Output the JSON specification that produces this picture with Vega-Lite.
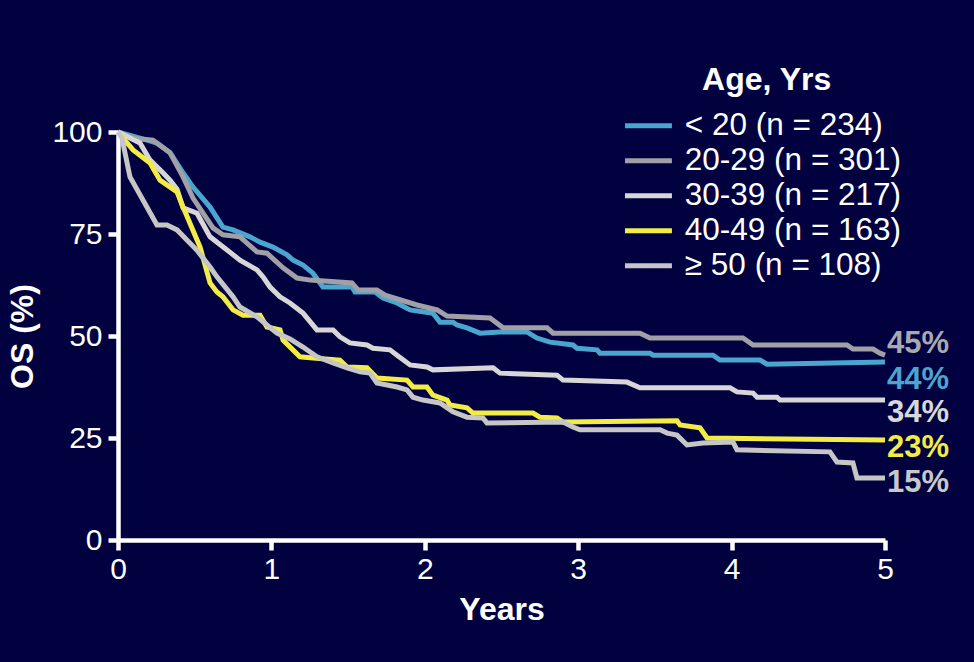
{
  "$schema": "https://vega.github.io/schema/vega-lite/v6.json",
  "autosize": "none",
  "width": 767,
  "height": 408,
  "padding": {"left": 118, "top": 132, "right": 89, "bottom": 122},
  "background": "#010140",
  "config": {
    "view": {"stroke": null},
    "font": "Liberation Sans",
    "axis": {
      "domainColor": "#ffffff", "domainWidth": 4.5, "tickColor": "#ffffff", "tickWidth": 4.5, "tickSize": 10,
      "labelColor": "#ffffff", "labelFont": "Liberation Sans", "labelFontSize": 30, "grid": false,
      "titleColor": "#ffffff", "titleFont": "Liberation Sans", "titleFontSize": 32, "titleFontWeight": "bold"
    },
    "legend": {
      "orient": "none", "legendX": 514.7, "legendY": -67, "padding": 0,
      "titleColor": "#ffffff", "titleFont": "Liberation Sans", "titleFontSize": 32, "titleFontWeight": "bold",
      "titleAnchor": "middle", "titlePadding": 13,
      "labelColor": "#ffffff", "labelFont": "Liberation Sans", "labelFontSize": 31.5, "labelOffset": 20.6, "labelLimit": 0,
      "symbolType": "M-3,0H3", "symbolSize": 245, "symbolStrokeWidth": 5, "rowPadding": 2
    }
  },
  "datasets": {
    "curves": [
      {"g": "< 20 (n = 234)", "t": 0, "s": 100},
      {"g": "< 20 (n = 234)", "t": 0.189, "s": 98},
      {"g": "< 20 (n = 234)", "t": 0.254, "s": 97.3},
      {"g": "< 20 (n = 234)", "t": 0.339, "s": 95},
      {"g": "< 20 (n = 234)", "t": 0.424, "s": 90},
      {"g": "< 20 (n = 234)", "t": 0.489, "s": 86.5},
      {"g": "< 20 (n = 234)", "t": 0.6, "s": 81.6},
      {"g": "< 20 (n = 234)", "t": 0.684, "s": 76.7},
      {"g": "< 20 (n = 234)", "t": 0.75, "s": 76},
      {"g": "< 20 (n = 234)", "t": 0.86, "s": 74.3},
      {"g": "< 20 (n = 234)", "t": 0.926, "s": 73},
      {"g": "< 20 (n = 234)", "t": 1.01, "s": 71.8},
      {"g": "< 20 (n = 234)", "t": 1.102, "s": 69.9},
      {"g": "< 20 (n = 234)", "t": 1.141, "s": 68.6},
      {"g": "< 20 (n = 234)", "t": 1.206, "s": 67.4},
      {"g": "< 20 (n = 234)", "t": 1.271, "s": 65.4},
      {"g": "< 20 (n = 234)", "t": 1.336, "s": 62},
      {"g": "< 20 (n = 234)", "t": 1.525, "s": 62},
      {"g": "< 20 (n = 234)", "t": 1.545, "s": 60.8},
      {"g": "< 20 (n = 234)", "t": 1.675, "s": 60.8},
      {"g": "< 20 (n = 234)", "t": 1.728, "s": 59.3},
      {"g": "< 20 (n = 234)", "t": 1.819, "s": 58.1},
      {"g": "< 20 (n = 234)", "t": 1.904, "s": 56.4},
      {"g": "< 20 (n = 234)", "t": 2.053, "s": 55.6},
      {"g": "< 20 (n = 234)", "t": 2.099, "s": 53.4},
      {"g": "< 20 (n = 234)", "t": 2.184, "s": 53.4},
      {"g": "< 20 (n = 234)", "t": 2.21, "s": 52.7},
      {"g": "< 20 (n = 234)", "t": 2.275, "s": 52},
      {"g": "< 20 (n = 234)", "t": 2.36, "s": 50.7},
      {"g": "< 20 (n = 234)", "t": 2.49, "s": 51},
      {"g": "< 20 (n = 234)", "t": 2.666, "s": 51},
      {"g": "< 20 (n = 234)", "t": 2.731, "s": 49.5},
      {"g": "< 20 (n = 234)", "t": 2.816, "s": 48.5},
      {"g": "< 20 (n = 234)", "t": 2.966, "s": 47.8},
      {"g": "< 20 (n = 234)", "t": 2.992, "s": 47},
      {"g": "< 20 (n = 234)", "t": 3.123, "s": 46.6},
      {"g": "< 20 (n = 234)", "t": 3.142, "s": 45.8},
      {"g": "< 20 (n = 234)", "t": 3.468, "s": 45.8},
      {"g": "< 20 (n = 234)", "t": 3.488, "s": 45.3},
      {"g": "< 20 (n = 234)", "t": 3.879, "s": 45.3},
      {"g": "< 20 (n = 234)", "t": 3.924, "s": 44.1},
      {"g": "< 20 (n = 234)", "t": 4.185, "s": 44.1},
      {"g": "< 20 (n = 234)", "t": 4.231, "s": 43.1},
      {"g": "< 20 (n = 234)", "t": 4.576, "s": 43.3},
      {"g": "< 20 (n = 234)", "t": 5, "s": 43.6},

      {"g": "20-29 (n = 301)", "t": 0, "s": 100},
      {"g": "20-29 (n = 301)", "t": 0.098, "s": 98.5},
      {"g": "20-29 (n = 301)", "t": 0.228, "s": 98},
      {"g": "20-29 (n = 301)", "t": 0.339, "s": 94.9},
      {"g": "20-29 (n = 301)", "t": 0.424, "s": 89},
      {"g": "20-29 (n = 301)", "t": 0.489, "s": 83.8},
      {"g": "20-29 (n = 301)", "t": 0.619, "s": 76.5},
      {"g": "20-29 (n = 301)", "t": 0.684, "s": 74.8},
      {"g": "20-29 (n = 301)", "t": 0.795, "s": 74.3},
      {"g": "20-29 (n = 301)", "t": 0.906, "s": 70.6},
      {"g": "20-29 (n = 301)", "t": 0.971, "s": 70.3},
      {"g": "20-29 (n = 301)", "t": 1.076, "s": 66.7},
      {"g": "20-29 (n = 301)", "t": 1.167, "s": 64.2},
      {"g": "20-29 (n = 301)", "t": 1.252, "s": 63.7},
      {"g": "20-29 (n = 301)", "t": 1.525, "s": 63},
      {"g": "20-29 (n = 301)", "t": 1.565, "s": 61.3},
      {"g": "20-29 (n = 301)", "t": 1.688, "s": 61.3},
      {"g": "20-29 (n = 301)", "t": 1.741, "s": 60},
      {"g": "20-29 (n = 301)", "t": 1.949, "s": 57.6},
      {"g": "20-29 (n = 301)", "t": 2.08, "s": 56.4},
      {"g": "20-29 (n = 301)", "t": 2.145, "s": 54.9},
      {"g": "20-29 (n = 301)", "t": 2.425, "s": 54.4},
      {"g": "20-29 (n = 301)", "t": 2.51, "s": 52},
      {"g": "20-29 (n = 301)", "t": 2.797, "s": 52},
      {"g": "20-29 (n = 301)", "t": 2.836, "s": 50.7},
      {"g": "20-29 (n = 301)", "t": 3.403, "s": 50.7},
      {"g": "20-29 (n = 301)", "t": 3.468, "s": 49.5},
      {"g": "20-29 (n = 301)", "t": 4.074, "s": 49.5},
      {"g": "20-29 (n = 301)", "t": 4.14, "s": 47.8},
      {"g": "20-29 (n = 301)", "t": 4.752, "s": 47.8},
      {"g": "20-29 (n = 301)", "t": 4.791, "s": 46.8},
      {"g": "20-29 (n = 301)", "t": 4.922, "s": 46.8},
      {"g": "20-29 (n = 301)", "t": 4.967, "s": 45.8},
      {"g": "20-29 (n = 301)", "t": 5, "s": 45.3},

      {"g": "30-39 (n = 217)", "t": 0, "s": 100},
      {"g": "30-39 (n = 217)", "t": 0.143, "s": 97.3},
      {"g": "30-39 (n = 217)", "t": 0.209, "s": 93.1},
      {"g": "30-39 (n = 217)", "t": 0.293, "s": 90},
      {"g": "30-39 (n = 217)", "t": 0.339, "s": 88.2},
      {"g": "30-39 (n = 217)", "t": 0.385, "s": 86},
      {"g": "30-39 (n = 217)", "t": 0.424, "s": 81.4},
      {"g": "30-39 (n = 217)", "t": 0.515, "s": 80.1},
      {"g": "30-39 (n = 217)", "t": 0.6, "s": 74.3},
      {"g": "30-39 (n = 217)", "t": 0.711, "s": 71.1},
      {"g": "30-39 (n = 217)", "t": 0.795, "s": 68.6},
      {"g": "30-39 (n = 217)", "t": 0.906, "s": 66.2},
      {"g": "30-39 (n = 217)", "t": 0.945, "s": 64.5},
      {"g": "30-39 (n = 217)", "t": 0.991, "s": 62},
      {"g": "30-39 (n = 217)", "t": 1.056, "s": 59.6},
      {"g": "30-39 (n = 217)", "t": 1.121, "s": 58.1},
      {"g": "30-39 (n = 217)", "t": 1.206, "s": 55.6},
      {"g": "30-39 (n = 217)", "t": 1.297, "s": 51.5},
      {"g": "30-39 (n = 217)", "t": 1.402, "s": 51.5},
      {"g": "30-39 (n = 217)", "t": 1.447, "s": 49.8},
      {"g": "30-39 (n = 217)", "t": 1.512, "s": 48.3},
      {"g": "30-39 (n = 217)", "t": 1.623, "s": 47.8},
      {"g": "30-39 (n = 217)", "t": 1.662, "s": 47},
      {"g": "30-39 (n = 217)", "t": 1.773, "s": 46.6},
      {"g": "30-39 (n = 217)", "t": 1.819, "s": 45.3},
      {"g": "30-39 (n = 217)", "t": 1.904, "s": 42.9},
      {"g": "30-39 (n = 217)", "t": 2.014, "s": 42.4},
      {"g": "30-39 (n = 217)", "t": 2.053, "s": 41.7},
      {"g": "30-39 (n = 217)", "t": 2.445, "s": 42.2},
      {"g": "30-39 (n = 217)", "t": 2.49, "s": 40.9},
      {"g": "30-39 (n = 217)", "t": 2.862, "s": 40.4},
      {"g": "30-39 (n = 217)", "t": 2.901, "s": 39.2},
      {"g": "30-39 (n = 217)", "t": 3.318, "s": 38.7},
      {"g": "30-39 (n = 217)", "t": 3.403, "s": 37.3},
      {"g": "30-39 (n = 217)", "t": 3.99, "s": 37.3},
      {"g": "30-39 (n = 217)", "t": 4.035, "s": 36.3},
      {"g": "30-39 (n = 217)", "t": 4.14, "s": 36},
      {"g": "30-39 (n = 217)", "t": 4.166, "s": 35},
      {"g": "30-39 (n = 217)", "t": 4.296, "s": 35},
      {"g": "30-39 (n = 217)", "t": 4.316, "s": 34.3},
      {"g": "30-39 (n = 217)", "t": 5, "s": 34.3},

      {"g": "40-49 (n = 163)", "t": 0, "s": 100},
      {"g": "40-49 (n = 163)", "t": 0.098, "s": 95.6},
      {"g": "40-49 (n = 163)", "t": 0.209, "s": 92.4},
      {"g": "40-49 (n = 163)", "t": 0.274, "s": 88.2},
      {"g": "40-49 (n = 163)", "t": 0.385, "s": 85.3},
      {"g": "40-49 (n = 163)", "t": 0.424, "s": 81.6},
      {"g": "40-49 (n = 163)", "t": 0.535, "s": 71.8},
      {"g": "40-49 (n = 163)", "t": 0.6, "s": 63},
      {"g": "40-49 (n = 163)", "t": 0.645, "s": 60.8},
      {"g": "40-49 (n = 163)", "t": 0.684, "s": 59.6},
      {"g": "40-49 (n = 163)", "t": 0.75, "s": 56.4},
      {"g": "40-49 (n = 163)", "t": 0.815, "s": 55.1},
      {"g": "40-49 (n = 163)", "t": 0.926, "s": 55.1},
      {"g": "40-49 (n = 163)", "t": 0.971, "s": 52.2},
      {"g": "40-49 (n = 163)", "t": 1.056, "s": 51.5},
      {"g": "40-49 (n = 163)", "t": 1.076, "s": 49},
      {"g": "40-49 (n = 163)", "t": 1.186, "s": 44.9},
      {"g": "40-49 (n = 163)", "t": 1.271, "s": 44.6},
      {"g": "40-49 (n = 163)", "t": 1.447, "s": 44.1},
      {"g": "40-49 (n = 163)", "t": 1.493, "s": 42.4},
      {"g": "40-49 (n = 163)", "t": 1.623, "s": 42.2},
      {"g": "40-49 (n = 163)", "t": 1.688, "s": 39.7},
      {"g": "40-49 (n = 163)", "t": 1.884, "s": 39.2},
      {"g": "40-49 (n = 163)", "t": 1.923, "s": 37.5},
      {"g": "40-49 (n = 163)", "t": 2.014, "s": 37.5},
      {"g": "40-49 (n = 163)", "t": 2.053, "s": 35.5},
      {"g": "40-49 (n = 163)", "t": 2.145, "s": 34.3},
      {"g": "40-49 (n = 163)", "t": 2.164, "s": 33.1},
      {"g": "40-49 (n = 163)", "t": 2.275, "s": 32.4},
      {"g": "40-49 (n = 163)", "t": 2.314, "s": 31.1},
      {"g": "40-49 (n = 163)", "t": 2.705, "s": 31.1},
      {"g": "40-49 (n = 163)", "t": 2.751, "s": 30.1},
      {"g": "40-49 (n = 163)", "t": 2.862, "s": 29.9},
      {"g": "40-49 (n = 163)", "t": 2.901, "s": 28.9},
      {"g": "40-49 (n = 163)", "t": 3.644, "s": 29.2},
      {"g": "40-49 (n = 163)", "t": 3.664, "s": 28.2},
      {"g": "40-49 (n = 163)", "t": 3.794, "s": 27.5},
      {"g": "40-49 (n = 163)", "t": 3.84, "s": 25},
      {"g": "40-49 (n = 163)", "t": 5, "s": 24.5},

      {"g": "≥ 50 (n = 108)", "t": 0, "s": 100},
      {"g": "≥ 50 (n = 108)", "t": 0.026, "s": 98.5},
      {"g": "≥ 50 (n = 108)", "t": 0.078, "s": 89},
      {"g": "≥ 50 (n = 108)", "t": 0.254, "s": 77.2},
      {"g": "≥ 50 (n = 108)", "t": 0.319, "s": 77.2},
      {"g": "≥ 50 (n = 108)", "t": 0.385, "s": 76},
      {"g": "≥ 50 (n = 108)", "t": 0.515, "s": 71},
      {"g": "≥ 50 (n = 108)", "t": 0.6, "s": 66.9},
      {"g": "≥ 50 (n = 108)", "t": 0.645, "s": 64.5},
      {"g": "≥ 50 (n = 108)", "t": 0.75, "s": 59.6},
      {"g": "≥ 50 (n = 108)", "t": 0.795, "s": 57.1},
      {"g": "≥ 50 (n = 108)", "t": 0.906, "s": 54.7},
      {"g": "≥ 50 (n = 108)", "t": 1.036, "s": 50.7},
      {"g": "≥ 50 (n = 108)", "t": 1.121, "s": 49.3},
      {"g": "≥ 50 (n = 108)", "t": 1.206, "s": 47.3},
      {"g": "≥ 50 (n = 108)", "t": 1.297, "s": 44.9},
      {"g": "≥ 50 (n = 108)", "t": 1.402, "s": 43.4},
      {"g": "≥ 50 (n = 108)", "t": 1.493, "s": 42.2},
      {"g": "≥ 50 (n = 108)", "t": 1.578, "s": 41.2},
      {"g": "≥ 50 (n = 108)", "t": 1.643, "s": 40.9},
      {"g": "≥ 50 (n = 108)", "t": 1.688, "s": 38.5},
      {"g": "≥ 50 (n = 108)", "t": 1.819, "s": 37.5},
      {"g": "≥ 50 (n = 108)", "t": 1.884, "s": 36.8},
      {"g": "≥ 50 (n = 108)", "t": 1.923, "s": 35},
      {"g": "≥ 50 (n = 108)", "t": 1.988, "s": 34.3},
      {"g": "≥ 50 (n = 108)", "t": 2.099, "s": 33.6},
      {"g": "≥ 50 (n = 108)", "t": 2.184, "s": 31.4},
      {"g": "≥ 50 (n = 108)", "t": 2.275, "s": 30.1},
      {"g": "≥ 50 (n = 108)", "t": 2.379, "s": 29.9},
      {"g": "≥ 50 (n = 108)", "t": 2.405, "s": 28.7},
      {"g": "≥ 50 (n = 108)", "t": 2.901, "s": 28.9},
      {"g": "≥ 50 (n = 108)", "t": 2.966, "s": 27.7},
      {"g": "≥ 50 (n = 108)", "t": 3.012, "s": 27},
      {"g": "≥ 50 (n = 108)", "t": 3.534, "s": 27},
      {"g": "≥ 50 (n = 108)", "t": 3.58, "s": 26.2},
      {"g": "≥ 50 (n = 108)", "t": 3.644, "s": 25.7},
      {"g": "≥ 50 (n = 108)", "t": 3.709, "s": 23.3},
      {"g": "≥ 50 (n = 108)", "t": 3.814, "s": 23.8},
      {"g": "≥ 50 (n = 108)", "t": 4.009, "s": 24},
      {"g": "≥ 50 (n = 108)", "t": 4.035, "s": 22.1},
      {"g": "≥ 50 (n = 108)", "t": 4.641, "s": 21.6},
      {"g": "≥ 50 (n = 108)", "t": 4.687, "s": 19.1},
      {"g": "≥ 50 (n = 108)", "t": 4.791, "s": 18.9},
      {"g": "≥ 50 (n = 108)", "t": 4.817, "s": 15.2},
      {"g": "≥ 50 (n = 108)", "t": 5, "s": 15.2}
    ],
    "ends": [
      {"g": "20-29 (n = 301)", "t": 5, "s": 48, "label": "45%", "c": "#a8a8b0"},
      {"g": "< 20 (n = 234)", "t": 5, "s": 39.2, "label": "44%", "c": "#4aa6ce"},
      {"g": "30-39 (n = 217)", "t": 5, "s": 31.1, "label": "34%", "c": "#d8d8d8"},
      {"g": "40-49 (n = 163)", "t": 5, "s": 22.5, "label": "23%", "c": "#f2ec44"},
      {"g": "≥ 50 (n = 108)", "t": 5, "s": 13.9, "label": "15%", "c": "#c8c8c8"}
    ]
  },
  "layer": [
    {
      "data": {"name": "curves"},
      "mark": {"type": "line", "strokeWidth": 5, "interpolate": "linear"},
      "encoding": {
        "x": {"field": "t", "type": "quantitative", "scale": {"domain": [0, 5], "nice": false},
              "axis": {"values": [0, 1, 2, 3, 4, 5], "format": "d", "title": "Years", "labelPadding": 4, "titlePadding": 10, "labelFlush": false}},
        "y": {"field": "s", "type": "quantitative", "scale": {"domain": [0, 100], "nice": false},
              "axis": {"values": [0, 25, 50, 75, 100], "format": "d", "title": "OS (%)", "labelPadding": 6, "titlePadding": 12}},
        "color": {"field": "g", "type": "nominal", "title": "Age, Yrs",
          "scale": {
            "domain": ["< 20 (n = 234)", "20-29 (n = 301)", "30-39 (n = 217)", "40-49 (n = 163)", "≥ 50 (n = 108)"],
            "range": ["#4aa6ce", "#a0a0a6", "#d7d7d7", "#f2ec44", "#c6c6c6"]
          },
          "legend": {"symbolType": "M-3,0H3"}
        },
        "order": {"field": "t", "type": "quantitative"}
      }
    },
    {
      "data": {"name": "ends"},
      "mark": {"type": "text", "align": "left", "baseline": "middle", "dx": 2, "fontSize": 31, "fontWeight": "bold", "font": "Liberation Sans"},
      "encoding": {
        "x": {"field": "t", "type": "quantitative"},
        "y": {"field": "s", "type": "quantitative"},
        "text": {"field": "label"},
        "color": {"field": "c", "type": "nominal", "scale": null}
      }
    }
  ]
}
